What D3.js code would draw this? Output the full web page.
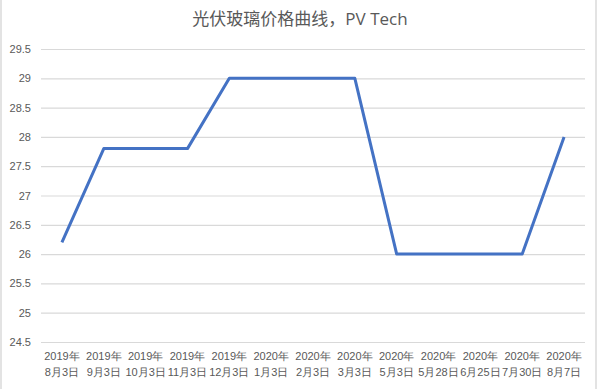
<!DOCTYPE html>
<html>
<head>
<meta charset="utf-8">
<script src="https://cdn.jsdelivr.net/npm/d3@7"></script>
<style>
  body { margin: 0; background: #fff; }
  svg { display: block; font-family: "Open Sans", "Noto Sans CJK SC", sans-serif; }
</style>
</head>
<body>
<div id="chart"></div>
<script>
var years = ['2019年', '2019年', '2019年', '2019年', '2019年', '2020年', '2020年', '2020年', '2020年', '2020年', '2020年', '2020年', '2020年']
var days = ['8月3日', '9月3日', '10月3日', '11月3日', '12月3日', '1月3日', '2月3日', '3月3日', '5月3日', '5月28日', '6月25日', '7月30日', '8月7日']
var prices = [26.2, 27.8, 27.8, 27.8, 29, 29, 29, 29, 26, 26, 26, 26, 28]
var yTicks = [24.5, 25, 25.5, 26, 26.5, 27, 27.5, 28, 28.5, 29, 29.5]
var title = '光伏玻璃价格曲线，PV Tech'

var width = 600, height = 389
var margin = {top: 49, right: 15, bottom: 47, left: 41}

var svg = d3.select('#chart').append('svg')
            .attr('width', width)
            .attr('height', height)

// frame
svg.append('rect')
   .attr('x', 1).attr('y', -2)
   .attr('width', 595).attr('height', height + 4)
   .attr('fill', 'none')
   .attr('stroke', '#e3e3e3')
   .attr('stroke-width', 2)

var keys = days.map(function(d, i) { return i })
var x = d3.scaleBand()
          .domain(keys)
          .range([margin.left, width - margin.right])
var y = d3.scaleLinear()
          .domain([24.5, 29.5])
          .range([height - margin.bottom, margin.top])

svg.append('text')
   .attr('x', 300).attr('y', 25)
   .attr('text-anchor', 'middle')
   .attr('fill', '#595959')
   .style('font-size', '17px')
   .text(title)

// grid + y labels
var yAxis = svg.append('g')
               .attr('transform', 'translate(' + margin.left + ',0)')
               .call(d3.axisLeft(y)
                       .tickValues(yTicks)
                       .tickSize(-(width - margin.left - margin.right))
                       .tickPadding(10)
                       .tickFormat(d3.format('')))
yAxis.select('.domain').remove()
yAxis.selectAll('.tick line').attr('stroke', '#d9d9d9').attr('stroke-width', 1.2)
yAxis.selectAll('.tick text')
     .attr('fill', '#595959')
     .style('font-size', '11px')

// x labels
var xAxis = svg.append('g')
               .attr('transform', 'translate(0,' + (height - margin.bottom) + ')')
               .call(d3.axisBottom(x).tickSize(0).tickFormat(''))
xAxis.select('.domain').remove()
xAxis.selectAll('.tick').each(function(d) {
  var t = d3.select(this).select('text')
            .attr('fill', '#595959')
            .style('font-size', '11px')
            .attr('y', 8)
  t.append('tspan').attr('x', 0).attr('dy', '0.9em').text(years[d])
  t.append('tspan').attr('x', 0).attr('dy', '1.45em').text(days[d])
})

var line = d3.line()
             .x(function(d, i) { return x(i) + x.bandwidth() / 2 })
             .y(function(d) { return y(d) })

svg.append('path')
   .datum(prices)
   .attr('d', line)
   .attr('fill', 'none')
   .attr('stroke', '#4472c4')
   .attr('stroke-width', 3)
   .attr('stroke-linejoin', 'round')
</script>
</body>
</html>
